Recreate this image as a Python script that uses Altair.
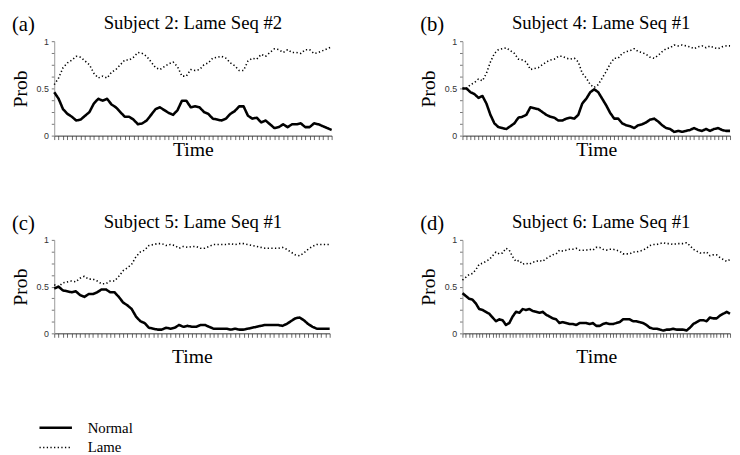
import altair as alt
import pandas as pd

# ---- data ----
series_names = ["Normal", "Lame"]
legend_rows = [0, 1]
letters = ["(a)", "(b)", "(c)", "(d)"]
titles = ["Subject 2: Lame Seq #2", "Subject 4: Lame Seq #1",
          "Subject 5: Lame Seq #1", "Subject 6: Lame Seq #1"]

a_normal = [0.46,0.39,0.28,0.23,0.20,0.16,0.17,0.21,0.25,0.34,
            0.39,0.37,0.39,0.33,0.30,0.25,0.20,0.20,0.17,0.12,
            0.13,0.16,0.22,0.28,0.30,0.27,0.24,0.22,0.27,0.37,
            0.37,0.30,0.31,0.30,0.25,0.23,0.18,0.17,0.16,0.18,
            0.23,0.26,0.31,0.31,0.21,0.18,0.19,0.14,0.16,0.12,
            0.08,0.09,0.12,0.09,0.12,0.12,0.13,0.09,0.09,0.13,
            0.12,0.10,0.08,0.06]
a_lame = [0.54,0.61,0.72,0.77,0.80,0.84,0.83,0.79,0.75,0.66,
          0.61,0.63,0.61,0.67,0.70,0.75,0.80,0.80,0.83,0.88,
          0.87,0.84,0.78,0.72,0.70,0.73,0.76,0.78,0.73,0.63,
          0.63,0.70,0.69,0.70,0.75,0.77,0.82,0.83,0.84,0.82,
          0.77,0.74,0.69,0.69,0.79,0.82,0.81,0.86,0.84,0.88,
          0.92,0.91,0.88,0.91,0.88,0.88,0.87,0.91,0.91,0.87,
          0.88,0.90,0.92,0.94]

b_normal = [0.50,0.50,0.46,0.44,0.40,0.42,0.34,0.22,0.13,0.09,
            0.08,0.07,0.10,0.13,0.19,0.20,0.22,0.30,0.29,0.28,
            0.25,0.22,0.20,0.19,0.16,0.16,0.18,0.19,0.18,0.22,
            0.34,0.39,0.46,0.49,0.46,0.39,
            0.32,0.24,0.18,0.18,0.13,0.11,0.10,0.08,0.11,0.12,
            0.14,0.17,0.18,0.15,0.11,0.08,0.07,0.04,0.05,0.04,
            0.05,0.06,0.08,0.06,0.05,0.07,0.05,0.07,0.08,0.06,
            0.05,0.05]
b_lame = [0.50,0.50,0.54,0.56,0.60,0.58,0.66,0.78,0.87,0.91,
          0.92,0.93,0.90,0.87,0.81,0.80,0.78,0.70,0.71,0.72,
          0.75,0.78,0.80,0.81,0.84,0.84,0.82,0.81,0.82,0.78,
          0.66,0.61,0.54,0.51,0.54,0.61,
          0.68,0.76,0.82,0.82,0.87,0.89,0.90,0.92,0.89,0.88,
          0.86,0.83,0.82,0.85,0.89,0.92,0.93,0.96,0.95,0.96,
          0.95,0.94,0.92,0.94,0.95,0.93,0.95,0.93,0.92,0.94,
          0.95,0.95]

c_normal = [0.48,0.50,0.46,0.45,0.44,0.45,0.41,0.39,0.42,0.42,
            0.44,0.47,0.47,0.44,0.44,0.39,0.33,0.30,0.26,0.18,
            0.13,0.11,0.06,0.05,0.04,0.04,0.06,0.05,0.06,0.09,
            0.07,0.08,
            0.07,0.07,0.09,0.09,0.07,0.05,0.05,0.05,0.05,0.04,
            0.05,0.04,0.04,0.05,0.06,0.07,0.08,0.09,0.09,0.09,
            0.09,0.08,0.10,0.13,0.16,0.17,0.14,0.10,0.07,0.05,
            0.05,0.05,0.05]
c_lame = [0.52,0.50,0.54,0.55,0.56,0.55,0.59,0.61,0.58,0.58,
          0.56,0.53,0.53,0.56,0.56,0.61,0.67,0.70,0.74,0.82,
          0.87,0.89,0.94,0.95,0.96,0.96,0.94,0.95,0.94,0.91,
          0.93,0.92,
          0.93,0.93,0.91,0.91,0.93,0.95,0.95,0.95,0.95,0.96,
          0.95,0.96,0.96,0.95,0.94,0.93,0.92,0.91,0.91,0.91,
          0.91,0.92,0.90,0.87,0.84,0.83,0.86,0.90,0.93,0.95,
          0.95,0.95,0.95]

d_normal = [0.43,0.40,0.37,0.36,0.32,0.26,0.25,0.23,0.21,0.17,
            0.13,0.15,0.14,0.09,0.11,0.18,0.23,0.22,0.26,0.25,
            0.26,0.24,0.23,0.22,0.23,0.20,0.18,0.16,0.15,0.11,
            0.12,0.11,0.10,0.10,0.09,0.11,0.11,0.11,0.10,0.11,
            0.08,0.08,0.10,0.11,0.10,0.10,0.11,0.12,0.15,0.15,
            0.15,0.13,0.13,0.12,0.11,0.09,0.06,0.05,0.05,0.04,
            0.03,0.04,0.04,0.05,0.04,0.04,0.04,0.03,0.06,0.10,
            0.12,0.14,0.14,0.13,0.17,0.16,0.16,0.19,0.21,0.23,
            0.21]
d_lame = [0.57,0.60,0.63,0.64,0.68,0.74,0.75,0.77,0.79,0.83,
          0.87,0.85,0.86,0.91,0.89,0.82,0.77,0.78,0.74,0.75,
          0.74,0.76,0.77,0.78,0.77,0.80,0.82,0.84,0.85,0.89,
          0.88,0.89,0.90,0.90,0.91,0.89,0.89,0.89,0.90,0.89,
          0.92,0.92,0.90,0.89,0.90,0.90,0.89,0.88,0.85,0.85,
          0.85,0.87,0.87,0.88,0.89,0.91,0.94,0.95,0.95,0.96,
          0.97,0.96,0.96,0.95,0.96,0.96,0.96,0.97,0.94,0.90,
          0.88,0.86,0.86,0.87,0.83,0.84,0.84,0.81,0.79,0.77,
          0.79]

y_tick_values = [0, 0.125, 0.25, 0.375, 0.5, 0.625, 0.75, 0.875, 1]

SERIF = "Liberation Serif"
SANS = "Liberation Sans"

dash_scale = alt.Scale(domain=series_names, range=[[1, 0], [1.3, 2.4]])
width_scale = alt.Scale(domain=series_names, range=[2.6, 1.6])


def panel(letter, title, normal, lame, width, height, time_pad):
    n = len(normal)
    df = pd.DataFrame({
        "t": list(range(n)) + list(range(n)),
        "prob": normal + lame,
        "series": [series_names[0]] * n + [series_names[1]] * n,
    })
    x = alt.X("t:Q",
              scale=alt.Scale(domain=[0, n - 1], nice=False, zero=False),
              axis=alt.Axis(values=list(range(n)), labels=False, grid=False,
                            title="Time", titleFont=SERIF, titleFontSize=20,
                            titleFontWeight="normal", titleColor="black",
                            titlePadding=time_pad, tickSize=4, tickWidth=0.8,
                            tickColor="#444", domainColor="#333", domainWidth=1))
    y = alt.Y("prob:Q",
              scale=alt.Scale(domain=[0, 1], nice=False),
              axis=alt.Axis(values=y_tick_values, grid=False,
                            labelExpr="datum.value == 0 ? '0' : datum.value == 0.5 ? '0.5' : datum.value == 1 ? '1' : ''",
                            labelFont=SANS, labelFontSize=9, labelColor="#333",
                            labelPadding=3,
                            title="Prob", titleFont=SERIF, titleFontSize=20,
                            titleFontWeight="normal", titleColor="black",
                            titlePadding=6, tickSize=3, tickColor="#777",
                            domainColor="#999", domainWidth=1))
    lines = alt.Chart(df).mark_line(color="black", strokeJoin="round").encode(
        x=x, y=y,
        strokeDash=alt.StrokeDash("series:N", scale=dash_scale, legend=None),
        strokeWidth=alt.StrokeWidth("series:N", scale=width_scale, legend=None),
        order="t:Q",
    )
    txt = pd.DataFrame({"lab": [letter], "ttl": [title]})
    lab = alt.Chart(txt).mark_text(
        font=SERIF, fontSize=21, align="left", baseline="middle", color="black"
    ).encode(text="lab:N", x=alt.value(-43), y=alt.value(-16))
    ttl = alt.Chart(txt).mark_text(
        font=SERIF, fontSize=19, align="center", baseline="middle", color="black"
    ).encode(text="ttl:N", x=alt.value(141), y=alt.value(-18))
    return alt.layer(lines, lab, ttl).properties(width=width, height=height)


pa = panel(letters[0], titles[0], a_normal, a_lame, 282, 96, 0)
pb = panel(letters[1], titles[1], b_normal, b_lame, 272, 96, 0)
pc = panel(letters[2], titles[2], c_normal, c_lame, 280, 95, 9)
pd_ = panel(letters[3], titles[3], d_normal, d_lame, 272, 95, 9)

# legend drawn as its own small chart from the series names
leg_df = pd.DataFrame({"series": series_names, "row": legend_rows})
leg_y = alt.Y("row:Q", scale=alt.Scale(domain=[0, 1], range=[1, 21], nice=False,
                                       zero=False), axis=None)
leg_lines = alt.Chart(leg_df).mark_rule(color="black").encode(
    x=alt.value(-15), x2=alt.value(18), y=leg_y,
    strokeDash=alt.StrokeDash("series:N", scale=dash_scale, legend=None),
    strokeWidth=alt.StrokeWidth("series:N", scale=width_scale, legend=None),
)
leg_text = alt.Chart(leg_df).mark_text(
    font=SERIF, fontSize=15, align="left", baseline="middle", color="black"
).encode(x=alt.value(34), y=leg_y, text="series:N")
legend = alt.layer(leg_lines, leg_text).properties(width=120, height=22)

chart = alt.vconcat(
    alt.vconcat(
        alt.hconcat(pa, pb, spacing=86),
        alt.hconcat(pc, pd_, spacing=88),
        spacing=54,
    ),
    legend,
    spacing=55,
).properties(
    padding={"left": 2, "top": 3, "right": 0, "bottom": 0}
).configure_view(stroke=None)

chart.save("out.html", embed_options={"renderer": "svg", "actions": False})
